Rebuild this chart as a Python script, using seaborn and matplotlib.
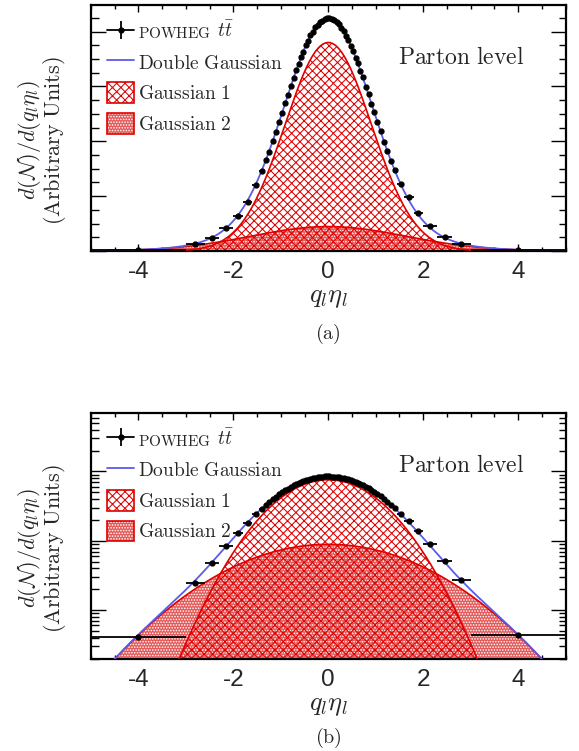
import numpy as np
import matplotlib
matplotlib.use("Agg")
import matplotlib.pyplot as plt
from matplotlib.patches import Patch
from matplotlib.lines import Line2D
from matplotlib.legend_handler import HandlerTuple
from matplotlib.ticker import MultipleLocator, LogLocator, NullFormatter, FixedLocator
import seaborn as sns

# ---- POWHEG ttbar at parton level: distribution of q_l * eta_l ----
bin_edges = [-5.00, -3.00, -2.60, -2.30, -2.00, -1.80, -1.60, -1.45, -1.36, -1.28,
             -1.21, -1.14, -1.07, -1.00, -0.94, -0.88, -0.82, -0.76, -0.70, -0.65,
             -0.60, -0.55, -0.50, -0.45, -0.40, -0.35, -0.30, -0.25, -0.20, -0.15,
             -0.10, -0.05, 0.00, 0.05, 0.10, 0.15, 0.20, 0.25, 0.30, 0.35,
             0.40, 0.45, 0.50, 0.55, 0.60, 0.65, 0.70, 0.76, 0.82, 0.88,
             0.94, 1.00, 1.07, 1.14, 1.21, 1.28, 1.36, 1.45, 1.60, 1.80,
             2.00, 2.30, 2.60, 3.00, 5.00]

powheg_values = [0.00041, 0.00248, 0.0048, 0.0084, 0.0128, 0.0178, 0.0240, 0.0290,
                 0.0331, 0.0362, 0.0400, 0.0432, 0.0472, 0.0503, 0.0538, 0.0567,
                 0.0602, 0.0630, 0.0660, 0.0681, 0.0708, 0.0726, 0.0750, 0.0765,
                 0.0786, 0.0798, 0.0815, 0.0823, 0.0836, 0.0840, 0.0847, 0.0849,
                 0.0851, 0.0845, 0.0843, 0.0833, 0.0827, 0.0812, 0.0802, 0.0783,
                 0.0769, 0.0747, 0.0730, 0.0705, 0.0684, 0.0657, 0.0633, 0.0599,
                 0.0571, 0.0535, 0.0507, 0.0469, 0.0436, 0.0397, 0.0366, 0.0328,
                 0.0294, 0.0246, 0.0195, 0.0140, 0.0090, 0.0051, 0.0027, 0.00044]

# Double-Gaussian fit: amplitude, mean, width of each component
gauss_amp = [0.0760, 0.0089]
gauss_mean = [0.0, 0.0]
gauss_sigma = [0.91, 1.63]

xtick_values = [-4, -2, 0, 2, 4]
xtick_labels = ["-4", "-2", "0", "2", "4"]
panel_tags = ["(a)", "(b)"]
tag_offsets_px = [83, 79]

RED = "#e00000"
BLUE = "#5b5be8"
G2_FACE = "#e35a5a"
G1_HATCH = "xxxx"
G2_HATCH = "......"

sns.set_style("ticks")
plt.rcParams["mathtext.fontset"] = "cm"
plt.rcParams["hatch.linewidth"] = 0.75
plt.rcParams["font.family"] = ["DejaVu Sans"]

edges = np.array(bin_edges)
centers = 0.5 * (edges[1:] + edges[:-1])
half_w = 0.5 * (edges[1:] - edges[:-1])
vals = np.array(powheg_values)

xs = np.linspace(-5, 5, 1001)


def gauss(x, a, m, s):
    return a * np.exp(-0.5 * ((x - m) / s) ** 2)


g1 = gauss(xs, gauss_amp[0], gauss_mean[0], gauss_sigma[0])
g2 = gauss(xs, gauss_amp[1], gauss_mean[1], gauss_sigma[1])
total = g1 + g2
floor = 1e-9

fig = plt.figure(figsize=(5.79, 7.51), dpi=100)
ax_lin = fig.add_axes([0.1572, 0.6658, 0.8195, 0.3269])
ax_log = fig.add_axes([0.1572, 0.1225, 0.8195, 0.3276])

TICK_FONT = dict(family="Liberation Sans", size=17.5)

for k, ax in enumerate([ax_lin, ax_log]):
    log = ax is ax_log
    # Gaussian 2 (wide): dotted red texture
    ax.fill_between(xs, floor, g2, facecolor=G2_FACE, edgecolor="white",
                    hatch=G2_HATCH, linewidth=0, zorder=1)
    # Gaussian 1 (narrow): red cross-hatch
    ax.fill_between(xs, floor, g1, facecolor="none", edgecolor=RED,
                    hatch=G1_HATCH, linewidth=0, zorder=2)
    ax.plot(xs, g2, color=RED, lw=1.2, zorder=3)
    ax.plot(xs, g1, color=RED, lw=1.2, zorder=3)
    sns.lineplot(x=xs, y=total, ax=ax, color=BLUE, lw=1.3, zorder=4)
    ax.errorbar(centers, vals, xerr=half_w, fmt="o", ms=3.5, color="black",
                ecolor="black", elinewidth=1.3, capsize=0, zorder=5)

    ax.set_xlim(-5, 5)
    if log:
        ax.set_yscale("log")
        ax.set_ylim(1.97e-4, 0.699)
        ax.yaxis.set_major_locator(LogLocator(base=10, numticks=10))
        ax.yaxis.set_minor_locator(LogLocator(base=10, subs=np.arange(2, 10), numticks=100))
    else:
        ax.set_ylim(0, 0.0895)
        ax.yaxis.set_major_locator(MultipleLocator(0.02))
        ax.yaxis.set_minor_locator(MultipleLocator(0.005))
    ax.yaxis.set_major_formatter(NullFormatter())
    ax.yaxis.set_minor_formatter(NullFormatter())

    ax.xaxis.set_major_locator(FixedLocator(xtick_values))
    ax.xaxis.set_minor_locator(MultipleLocator(0.5))
    ax.set_xticklabels(xtick_labels, fontdict=TICK_FONT)

    ax.tick_params(axis="both", which="both", direction="in", top=True, right=True,
                   width=1.0, color="black")
    ax.tick_params(axis="x", which="major", length=5.2, pad=7)
    ax.tick_params(axis="x", which="minor", length=2.6)
    ax.tick_params(axis="y", which="major", length=11)
    ax.tick_params(axis="y", which="minor", length=5.4)
    for sp in ax.spines.values():
        sp.set_linewidth(1.6)
        sp.set_color("black")

    ax.set_xlabel(r"$q_l\eta_l$", fontsize=19)
    ax.xaxis.set_label_coords(0.5, -46 / 245.5)
    ax.xaxis.label.set_va("center")
    ax.set_ylabel("")

    ax.text(-0.130, 0.45, r"$d(\mathcal{N})/d(q_l\eta_l)$", transform=ax.transAxes,
            rotation=90, ha="center", va="center", fontsize=16)
    ax.text(-0.077, 0.45, r"$\mathrm{(Arbitrary\ Units)}$", transform=ax.transAxes,
            rotation=90, ha="center", va="center", fontsize=16)

    ax.text(0.78, 0.79, r"$\mathrm{Parton\ level}$", transform=ax.transAxes,
            ha="center", va="center", fontsize=17)

    ax.text(0.5, -tag_offsets_px[k] / 245.5, r"$\mathrm{" + panel_tags[k] + "}$",
            transform=ax.transAxes, ha="center", va="center", fontsize=14.5)

    # legend
    h_data = Line2D([], [], color="black", marker="o", ms=3.5, lw=1.3)
    h_vert = Line2D([], [], color="black", marker="|", ms=13, lw=0, mew=1.3)
    h_fit = Line2D([], [], color=BLUE, lw=1.3)
    h_g1 = Patch(facecolor="white", edgecolor=RED, hatch=G1_HATCH, lw=1.2)
    h_g2 = (Patch(facecolor=G2_FACE, edgecolor="white", hatch=G2_HATCH, lw=0),
            Patch(facecolor="none", edgecolor=RED, lw=1.2))
    leg = ax.legend([(h_data, h_vert), h_fit, h_g1, h_g2],
                    [r"$\mathrm{POWHEG}$", r"$\mathrm{Double\ Gaussian}$",
                     r"$\mathrm{Gaussian\ 1}$", r"$\mathrm{Gaussian\ 2}$"],
                    handler_map={tuple: HandlerTuple(ndivide=1)},
                    loc="upper left", bbox_to_anchor=(0.034, 0.935), frameon=False,
                    fontsize=14, handlelength=1.4, handleheight=1.26,
                    handletextpad=0.2, labelspacing=0.5, borderpad=0, borderaxespad=0)
    leg.set_zorder(8)
    ptxt = leg.get_texts()[0]
    ptxt.set_fontsize(11)
    ax.annotate(r"$t\bar{t}$", xy=(1, 0), xycoords=ptxt, xytext=(4, 0),
                textcoords="offset points", ha="left", va="bottom", fontsize=14,
                zorder=10, annotation_clip=False)

fig.canvas.draw()
fig.savefig("out.png", dpi=100)
